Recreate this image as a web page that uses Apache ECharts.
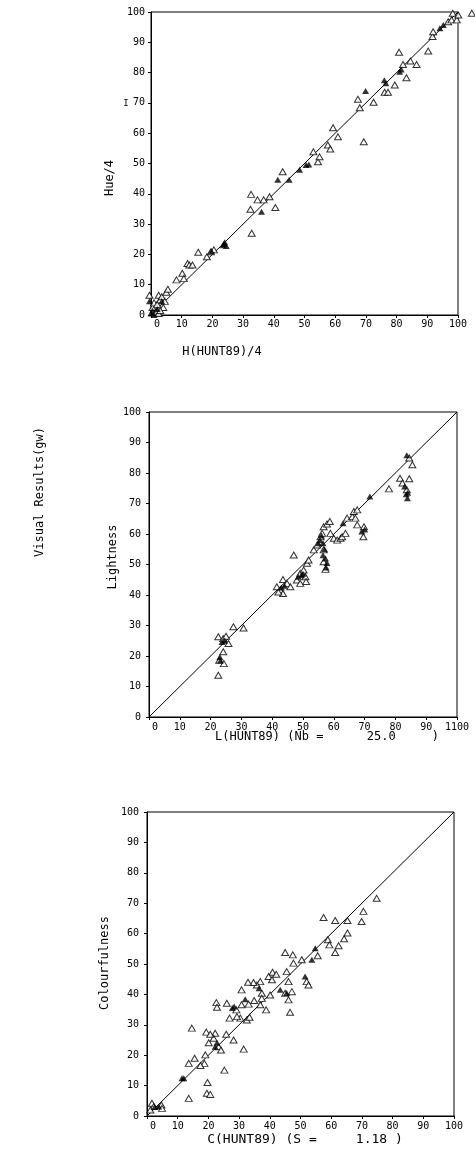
<!DOCTYPE html>
<html>
<head>
  <meta charset="utf-8">
  <title>Visual Results</title>
  <script src="https://cdn.jsdelivr.net/npm/echarts@6/dist/echarts.min.js"></script>
</head>
<body style="margin:0;background:#fff">
  <div id="container" style="width:475px;height:1172px"></div>
  <script>
    // tick labels
    const ticks = ['0', '10', '20', '30', '40', '50', '60', '70', '80', '90', '100'];
    const ticksL = ['0', '10', '20', '30', '40', '50', '60', '70', '80', '90', '1100'];
    const diagonal = [[0, 0], [100, 100]];

    // hue panel
    const hueOpen = [[-0.5, 6.5], [0.5, 2.5], [1.5, 1], [2.5, 0.5], [1, 4], [2, 3.5], [3, 5], [2.5, 6.5], [3.5, 6], [4.5, 4.5], [5, 7.5], [5.5, 8.5], [4, 2.5], [3, 1.5],
      [8.3, 11.6], [10.2, 13.8], [10.7, 12], [11.9, 17], [12.5, 16.5], [13.5, 16.5], [15.4, 20.7], [18.2, 19.2], [19.5, 20.9], [20.5, 21.5],
      [32.4, 34.9], [32.6, 39.8], [32.8, 27], [34.7, 38], [36.7, 38], [38.6, 39], [40.5, 35.5], [42.9, 47.3],
      [52.9, 53.9], [54.4, 50.6], [54.9, 52.2], [57.6, 56.1], [58.4, 54.8], [59.3, 61.8], [60.9, 58.8], [67.4, 71.2], [68, 68.4], [69.3, 57.2], [72.5, 70.2],
      [76.1, 73.5], [77.2, 73.5], [79.4, 75.9], [80.8, 86.7], [82.1, 82.7], [83.2, 78.3], [84.5, 83.8], [86.5, 82.7], [90.3, 87.1], [91.7, 91.9], [91.9, 93.5],
      [96.8, 96.8], [97.9, 97.4], [98.3, 99.6], [99.6, 97.4], [100.1, 99], [104.5, 99.6]];
    const hueFilled = [[-0.5, 4.5], [0, 0.5], [0.5, 1.5], [1, 0], [2, 2], [3.5, 4.5],
      [19.7, 21], [23.5, 23], [24, 24], [24.5, 22.8], [23.8, 23.5],
      [36, 34.1], [41.3, 44.6], [45, 44.6], [48.4, 47.9], [50.5, 49.5], [51.4, 49.7],
      [69.9, 73.9], [76.5, 76.5], [76, 77.5], [81, 80.3], [81.5, 81], [94.1, 94.6], [95.2, 95.7]];

    // lightness panel
    const lightOpen = [[22.5, 13.7], [22.8, 18.6], [24.3, 17.5], [24.1, 21.4], [22.5, 26.3], [24.1, 25.7], [25, 26.5], [25.8, 24.1], [27.4, 29.6], [30.7, 29.2],
      [41.5, 42.7], [42.6, 41.6], [43.5, 40.5], [42, 41], [43.5, 45.1], [44.8, 43.8], [45.9, 42.7], [47, 53.1], [48, 44.9], [49.1, 43.8], [49.1, 47.1], [50.2, 48.2],
      [50.8, 46], [51, 44.4], [51.3, 50.4], [51.8, 51.5], [53.5, 54.8], [54.6, 56.4], [55.7, 59.1], [56.2, 60.2], [56.7, 62.4], [56.7, 54.8], [56.7, 50.9], [57.3, 48.4],
      [57.8, 63.3], [58.7, 64.1], [58.9, 60.2], [60, 58.6], [61.1, 58], [62.2, 58.6], [62.7, 59.1], [63.8, 60.2], [64.3, 65.2], [66, 65.7], [66.5, 67.4], [67.6, 67.9],
      [67, 65.2], [67.6, 63], [69.8, 62.4], [69.6, 59.1],
      [77.9, 74.8], [81.5, 78.3], [84.5, 78.1], [82.3, 76.7], [83.7, 74.5], [84.5, 84.9], [85.5, 82.7]];
    const lightFilled = [[23, 19.7], [23.7, 24.6], [24.5, 25], [23.2, 18.5], [43, 42.5], [44, 43], [48.5, 46], [49.5, 46.5], [50, 47],
      [55, 57], [55.5, 58], [56, 59.5], [56.5, 57], [56.5, 53], [57, 55], [57.3, 52], [57.8, 50.5], [57.5, 49], [63, 63.5],
      [69.1, 60.8], [70, 61.5], [71.7, 72.3], [83, 75.6], [83.5, 73], [83.9, 71.7], [83.7, 85.8], [84, 73.5]];

    // colourfulness panel
    const colOpen = [[74.8, 71.6], [70.5, 67.3], [69.9, 64], [65.3, 64.3], [61.3, 64.3], [57.5, 65.3], [65.3, 60.2], [64.2, 58.3], [62.4, 56], [61.3, 53.8],
      [58.9, 58], [59.4, 56.3], [55.6, 52.7], [50.4, 51.4], [47.7, 50.3], [45, 53.8], [47.5, 53], [45.5, 47.5], [52, 44.2], [52.6, 43.1],
      [40.9, 47.3], [42.1, 46.6], [39.6, 45.9], [40.7, 44.8], [46.1, 44.2], [47.2, 40.9], [46.1, 38.2], [46.6, 34.1], [45, 40.4], [40.1, 39.8],
      [37.4, 40.4], [36.9, 44.2], [35.8, 43.1], [34.7, 43.9], [32.9, 44], [34.9, 38], [33.1, 36.8], [36.9, 36.6], [37.4, 38.7], [38.8, 34.9],
      [30.8, 41.5], [30.8, 36.6], [30.4, 32.2], [32.5, 31.6], [33.4, 32.5], [29.1, 34.9], [29.3, 32.7], [26.9, 32.2], [26, 37.1], [22.6, 37.3],
      [22.8, 35.8], [28.2, 25], [31.5, 22], [25.8, 26.9], [25.2, 15.1], [22.2, 27.2], [21.7, 25.6], [23.3, 22.8], [24.1, 21.7], [19.3, 27.6],
      [20.6, 26.9], [20.1, 24.1], [19, 20.1], [18.7, 17.3], [17.4, 16.6], [15.5, 19], [13.6, 17.3], [14.6, 28.9], [19.7, 11], [19.5, 7.5],
      [20.6, 7.1], [13.6, 5.8], [1.6, 4.2], [2.2, 3.1], [4.7, 3.6], [4.9, 2.5], [1.1, 2]];
    const colFilled = [[54.8, 55.2], [53.7, 51.4], [51.5, 45.9], [43.4, 41.5], [36.5, 42], [32, 38.4], [28.4, 36], [27.8, 35.5],
      [22.8, 24.1], [22.2, 22.8], [11.4, 12.4], [12, 12.4], [3.8, 3.1], [2.5, 3], [45.5, 40.5]];

    const mono = '"DejaVu Sans Mono", monospace';
    const chart = echarts.init(document.getElementById('container'));

    function xAxisFor(i, labels, margin) {
      return {
        type: 'value', gridIndex: i, min: 0, max: 100, interval: 10,
        axisLine: { lineStyle: { color: '#000', width: 1 } },
        axisTick: { length: 3, lineStyle: { color: '#000' } },
        splitLine: { show: false },
        axisLabel: {
          color: '#000', fontSize: 10, fontFamily: mono, margin: margin,
          formatter: function (v) {
            var t = labels[Math.round(v / 10)];
            return v === 0 ? '{z|' + t + '}' : t;
          },
          rich: { z: { color: '#000', fontSize: 10, fontFamily: mono, padding: [0, 0, 0, 12] } }
        }
      };
    }
    function yAxisFor(i, margin) {
      return {
        type: 'value', gridIndex: i, min: 0, max: 100, interval: 10,
        axisLine: { show: true, lineStyle: { color: '#000', width: 1 } },
        axisTick: { show: true, length: 3, lineStyle: { color: '#000' } },
        splitLine: { show: false },
        axisLabel: {
          color: '#000', fontSize: 10, fontFamily: mono, margin: margin,
          formatter: function (v) { return ticks[Math.round(v / 10)]; }
        }
      };
    }
    function pts(name, i, data, filled) {
      return {
        name: name, type: 'scatter', xAxisIndex: i, yAxisIndex: i, data: data,
        symbol: 'triangle', symbolSize: [7, 6], clip: false, z: filled ? 4 : 3,
        itemStyle: filled ? { color: '#000' } : { color: '#fff', borderColor: '#000', borderWidth: 1 }
      };
    }
    function diag(i) {
      return {
        type: 'line', xAxisIndex: i, yAxisIndex: i, data: diagonal, symbol: 'none',
        lineStyle: { color: '#000', width: 1 }, z: 2
      };
    }
    function label(text, x, y, rot, size) {
      return {
        type: 'text', x: x, y: y, rotation: rot || 0,
        style: {
          text: text, font: (size || 12) + 'px ' + mono, fill: '#000',
          align: 'center', verticalAlign: 'middle', textAlign: 'center', textVerticalAlign: 'middle'
        }
      };
    }

    const option = {
      backgroundColor: '#fff',
      animation: false,
      grid: [
        { left: 151, top: 12, width: 307, height: 303, show: true, borderColor: '#000', borderWidth: 1 },
        { left: 149, top: 412, width: 308, height: 305, show: true, borderColor: '#000', borderWidth: 1 },
        { left: 147, top: 812, width: 307, height: 304, show: true, borderColor: '#000', borderWidth: 1 }
      ],
      xAxis: [xAxisFor(0, ticks, 4), xAxisFor(1, ticksL, 5), xAxisFor(2, ticks, 5)],
      yAxis: [yAxisFor(0, 6), yAxisFor(1, 8), yAxisFor(2, 8)],
      series: [
        diag(0), pts('hue open', 0, hueOpen, false), pts('hue filled', 0, hueFilled, true),
        diag(1), pts('lightness open', 1, lightOpen, false), pts('lightness filled', 1, lightFilled, true),
        diag(2), pts('colourfulness open', 2, colOpen, false), pts('colourfulness filled', 2, colFilled, true)
      ],
      graphic: [
        label('H(HUNT89)/4', 222, 352),
        label('Hue/4', 110, 178, Math.PI / 2),
        label('I', 126, 104, 0, 9),
        label('L(HUNT89) (Nb =      25.0     )', 327, 737),
        label('Lightness', 113, 557, Math.PI / 2),
        label('Visual Results(gw)', 40, 492, Math.PI / 2),
        label('C(HUNT89) (S =     1.18 )', 305, 1140, 0, 13),
        label('Colourfulness', 105, 963, Math.PI / 2)
      ]
    };
    chart.setOption(option);
  </script>
</body>
</html>
